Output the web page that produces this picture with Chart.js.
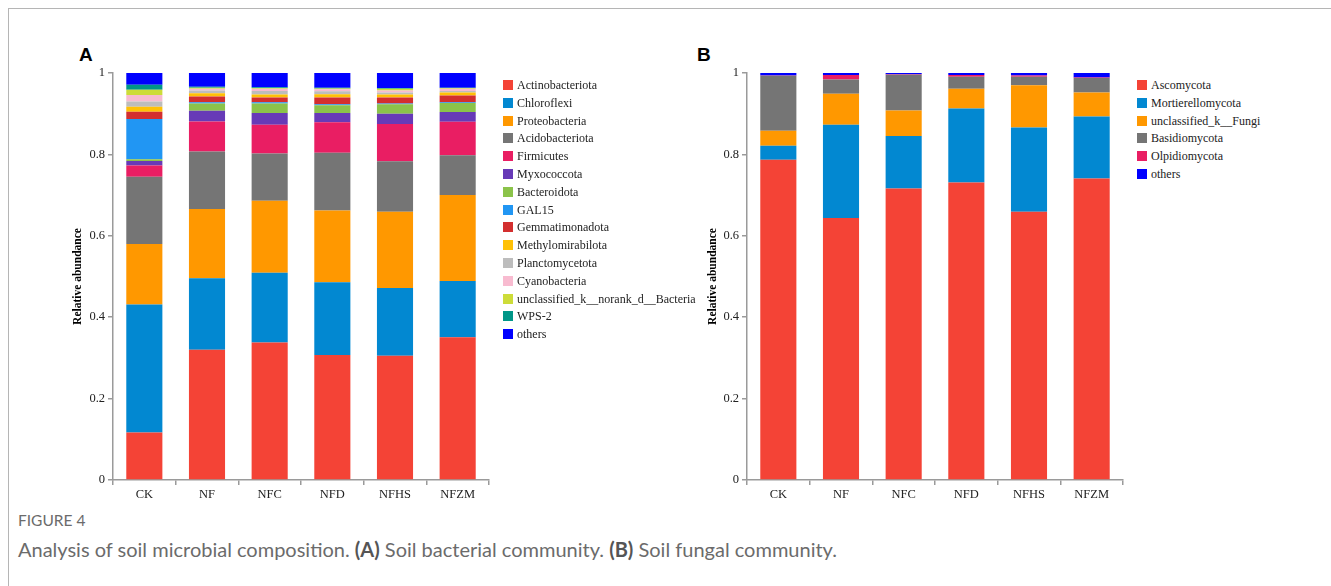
<!DOCTYPE html>
<html>
<head>
<meta charset="utf-8">
<script src="https://cdn.jsdelivr.net/npm/chart.js@4/dist/chart.umd.min.js"></script>
<style>
  html, body { margin: 0; padding: 0; background: #fff; }
  body { width: 1331px; height: 586px; position: relative; overflow: hidden; }
  .frame-top { position: absolute; left: 8px; top: 8px; width: 1323px; height: 0; border-top: 1.5px solid #b5b5b5; }
  .frame-left { position: absolute; left: 8px; top: 8px; width: 0; height: 578px; border-left: 1.5px solid #b5b5b5; }
  .panel-letter { position: absolute; font-family: "Liberation Sans", Arial, sans-serif; font-weight: bold; font-size: 19px; color: #000; }
  .chart-box { position: absolute; }
  .legend { position: absolute; font-family: "Liberation Serif", "Times New Roman", serif; font-size: 12px; color: #222; }
  .legend div { height: 17.8px; line-height: 17.8px; white-space: nowrap; }
  .legend span { display: inline-block; width: 10px; height: 10px; margin-right: 4px; vertical-align: -1px; }
  .fig-label { position: absolute; left: 18px; top: 511px; font-family: Lato, "Open Sans", sans-serif; font-size: 15.5px; color: #6b6b6b; }
  .caption { position: absolute; left: 18px; top: 537px; font-family: Lato, "Open Sans", sans-serif; font-size: 20px; color: #6b6b6b; white-space: nowrap; }
  .caption b { color: #555; }
</style>
</head>
<body>
<div class="frame-top"></div>
<div class="frame-left"></div>
<div class="panel-letter" style="left:79px; top:44px;">A</div>
<div class="panel-letter" style="left:697px; top:44px;">B</div>

<div class="chart-box" style="left:60px; top:60px; width:440px; height:450px;"><canvas id="chartA"></canvas></div>
<div class="chart-box" style="left:695px; top:60px; width:439px; height:450px;"><canvas id="chartB"></canvas></div>

<div class="legend" id="legendA" style="left:503px; top:77px;"></div>
<div class="legend" id="legendB" style="left:1137px; top:77px;"></div>

<div class="fig-label">FIGURE 4</div>
<div class="caption">Analysis of soil microbial composition. <b>(A)</b> Soil bacterial community. <b>(B)</b> Soil fungal community.</div>

<script>
// ── Categories ──
var groups = ['CK', 'NF', 'NFC', 'NFD', 'NFHS', 'NFZM'];
var yTicks = [0, 0.2, 0.4, 0.6, 0.8, 1];

// ── Panel A: bacterial phyla (relative abundance) ──
var bacteriaNames = ['Actinobacteriota', 'Chloroflexi', 'Proteobacteria', 'Acidobacteriota',
  'Firmicutes', 'Myxococcota', 'Bacteroidota', 'GAL15', 'Gemmatimonadota', 'Methylomirabilota',
  'Planctomycetota', 'Cyanobacteria', 'unclassified_k__norank_d__Bacteria', 'WPS-2', 'others'];
var bacteriaColors = ['#f44336', '#0288d1', '#ff9800', '#757575', '#e91e63', '#673ab7', '#8bc34a',
  '#2196f3', '#d32f2f', '#ffc107', '#bdbdbd', '#f8bbd0', '#cddc39', '#009688', '#0000ff'];

var actinobacteriota  = [0.117, 0.320, 0.338, 0.307, 0.305, 0.351];
var chloroflexi       = [0.314, 0.176, 0.171, 0.179, 0.167, 0.138];
var proteobacteria    = [0.149, 0.170, 0.177, 0.176, 0.187, 0.211];
var acidobacteriota   = [0.165, 0.141, 0.116, 0.142, 0.124, 0.098];
var firmicutes        = [0.028, 0.074, 0.071, 0.075, 0.092, 0.082];
var myxococcota       = [0.011, 0.026, 0.029, 0.023, 0.025, 0.024];
var bacteroidota      = [0.004, 0.018, 0.023, 0.019, 0.023, 0.022];
var gal15             = [0.099, 0.003, 0.003, 0.002, 0.002, 0.002];
var gemmatimonadota   = [0.018, 0.014, 0.012, 0.017, 0.015, 0.017];
var methylomirabilota = [0.012, 0.008, 0.007, 0.008, 0.007, 0.007];
var planctomycetota   = [0.013, 0.007, 0.009, 0.007, 0.005, 0.004];
var cyanobacteria     = [0.016, 0.004, 0.005, 0.005, 0.005, 0.005];
var unclassifiedBact  = [0.013, 0.003, 0.002, 0.002, 0.004, 0.002];
var wps2              = [0.012, 0.002, 0.002, 0.002, 0.002, 0.001];
var othersBact        = [0.029, 0.034, 0.035, 0.036, 0.037, 0.036];

var bacteriaValues = [actinobacteriota, chloroflexi, proteobacteria, acidobacteriota, firmicutes,
  myxococcota, bacteroidota, gal15, gemmatimonadota, methylomirabilota, planctomycetota,
  cyanobacteria, unclassifiedBact, wps2, othersBact];

// ── Panel B: fungal phyla ──
var fungiNames = ['Ascomycota', 'Mortierellomycota', 'unclassified_k__Fungi', 'Basidiomycota', 'Olpidiomycota', 'others'];
var fungiColors = ['#f44336', '#0288d1', '#ff9800', '#757575', '#e91e63', '#0000ff'];

var ascomycota        = [0.787, 0.644, 0.716, 0.731, 0.659, 0.741];
var mortierellomycota = [0.034, 0.229, 0.129, 0.182, 0.207, 0.152];
var unclassifiedFungi = [0.037, 0.076, 0.063, 0.048, 0.104, 0.059];
var basidiomycota     = [0.135, 0.035, 0.088, 0.030, 0.021, 0.036];
var olpidiomycota     = [0.001, 0.011, 0.001, 0.004, 0.003, 0.001];
var othersFungi       = [0.006, 0.005, 0.003, 0.005, 0.006, 0.011];

var fungiValues = [ascomycota, mortierellomycota, unclassifiedFungi, basidiomycota, olpidiomycota, othersFungi];

// ── Helpers ──
var AXIS_COLOR = '#9a9a9a';
var SERIF = '"Liberation Serif", "Times New Roman", serif';

function buildDatasets(names, colors, values) {
  var ds = [];
  for (var i = 0; i < names.length; i++) {
    ds.push({
      label: names[i],
      data: values[i],
      backgroundColor: colors[i],
      borderWidth: 0,
      barPercentage: 0.9,
      categoryPercentage: 0.64,
      stack: 's'
    });
  }
  return ds;
}

function buildLegend(elId, names, colors) {
  var html = '';
  for (var i = 0; i < names.length; i++) {
    html += '<div><span style="background:' + colors[i] + '"></span>' + names[i] + '</div>';
  }
  document.getElementById(elId).innerHTML = html;
}

function makeChart(canvasId, names, colors, values, yAxisWidth) {
  return new Chart(document.getElementById(canvasId), {
    type: 'bar',
    data: { labels: groups, datasets: buildDatasets(names, colors, values) },
    options: {
      responsive: true,
      maintainAspectRatio: false,
      animation: false,
      layout: { padding: { top: 13, right: 11, left: 0, bottom: 0 } },
      plugins: { legend: { display: false }, tooltip: { enabled: false } },
      scales: {
        x: {
          stacked: true,
          grid: { drawOnChartArea: false, drawTicks: true, tickLength: 5, color: AXIS_COLOR, lineWidth: 1.5 },
          border: { color: AXIS_COLOR, width: 1.5 },
          ticks: { color: '#222', font: { family: SERIF, size: 12.5 }, padding: 2, maxRotation: 0 },
          afterFit: function(scale) { scale.height = 30; }
        },
        y: {
          stacked: true,
          min: 0,
          max: 1,
          afterBuildTicks: function(scale) {
            scale.ticks = yTicks.map(function(v) { return { value: v }; });
          },
          grid: { drawOnChartArea: false, drawTicks: true, tickLength: 5, color: AXIS_COLOR, lineWidth: 1.5 },
          border: { color: AXIS_COLOR, width: 1.5 },
          ticks: {
            color: '#222',
            font: { family: SERIF, size: 12.5 },
            padding: 3,
            callback: function(val) { return String(Math.round(val * 10) / 10); }
          },
          title: {
            display: true,
            text: 'Relative abundance',
            color: '#000',
            font: { family: SERIF, size: 11.5, weight: 'bold' },
            padding: { top: 11, bottom: 0 }
          },
          afterFit: function(scale) { scale.width = yAxisWidth; }
        }
      }
    }
  });
}

buildLegend('legendA', bacteriaNames, bacteriaColors);
buildLegend('legendB', fungiNames, fungiColors);
makeChart('chartA', bacteriaNames, bacteriaColors, bacteriaValues, 53);
makeChart('chartB', fungiNames, fungiColors, fungiValues, 52);
</script>
</body>
</html>
